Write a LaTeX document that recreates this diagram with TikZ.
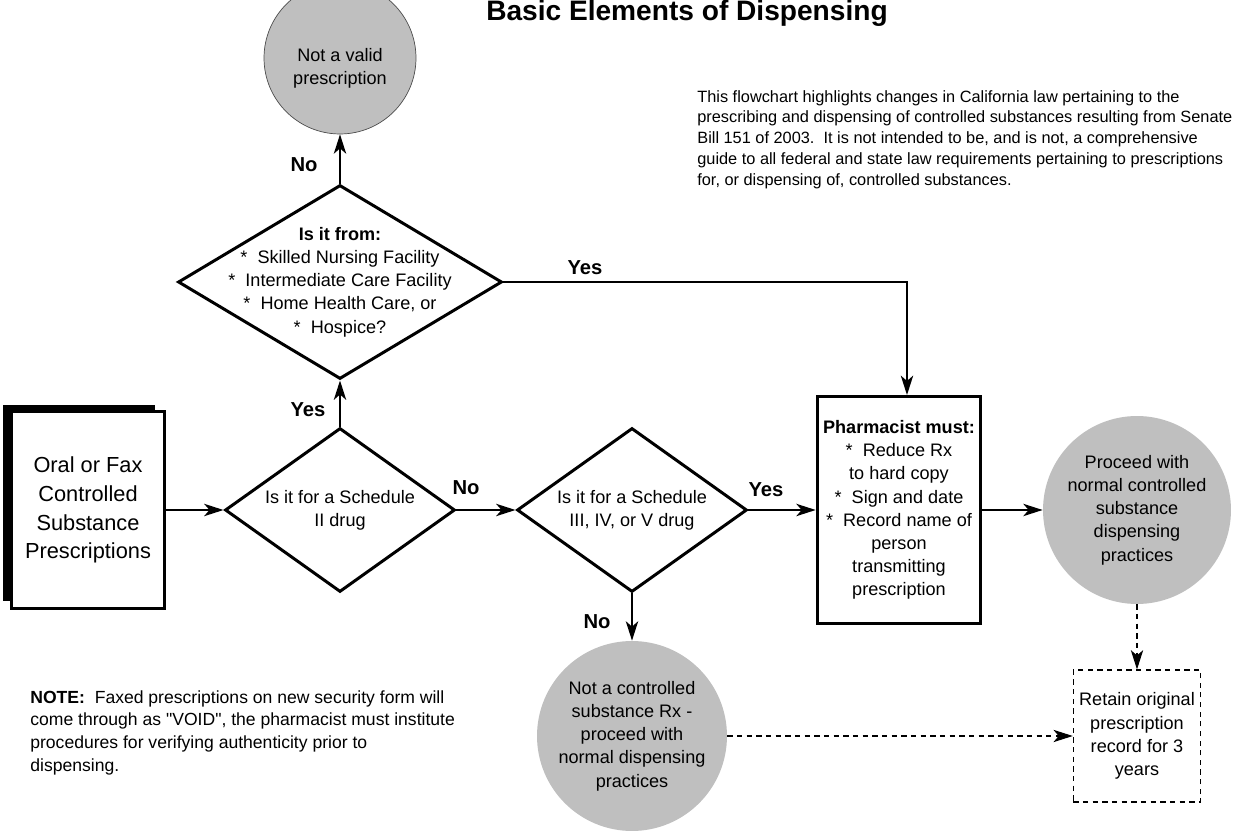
\documentclass[tikz,border=0pt]{standalone}
\usepackage{fontspec}
\setmainfont{Liberation Sans}
\usetikzlibrary{arrows.meta,shapes.geometric,shadows}

\begin{document}
\begin{tikzpicture}[x=0.02cm, y=-0.02cm,
    txt/.style={font=\fontsize{10.3}{13.2}\selectfont, align=center},
    flow/.style={line width=1.2pt, -{Stealth[length=11pt, width=7pt, inset=3pt]}},
    dflow/.style={line width=0.6pt, dash pattern=on 3pt off 2.5pt, -{Stealth[length=11pt, width=7pt, inset=3pt]}},
    decision/.style={draw, diamond, line width=1.7pt, inner sep=0pt},
    endpoint/.style={circle, fill=black!25, inner sep=0pt, txt},
    answer/.style={font=\fontsize{11.5}{13}\selectfont\bfseries}]
  \useasboundingbox (0,0) rectangle (1249,834);
  \node [anchor=base, font=\fontsize{16}{19}\selectfont\bfseries] (title) at (687,21) {Basic Elements of Dispensing};
  \node [anchor=north west, inner sep=0pt, align=left, font=\fontsize{9.3}{11.8}\selectfont] (intro) at (697,90)
    {This flowchart highlights changes in California law pertaining to the\\
     prescribing and dispensing of controlled substances resulting from Senate\\
     Bill 151 of 2003.~~It is not intended to be, and is not, a comprehensive\\
     guide to all federal and state law requirements pertaining to prescriptions\\
     for, or dispensing of, controlled substances.};
  \node [anchor=north west, inner sep=0pt, align=left, font=\fontsize{10}{13}\selectfont] (note) at (30,690)
    {\textbf{NOTE:}~~Faxed prescriptions on new security form will\\
     come through as \textquotedbl VOID\textquotedbl, the pharmacist must institute\\
     procedures for verifying authenticity prior to\\
     dispensing.};
  % shapes
  \node [draw, line width=1.4pt, fill=white, minimum width=3.06cm, minimum height=3.94cm,
    general shadow={fill=black, shadow xshift=-0.18cm, shadow yshift=0.14cm},
    font=\fontsize{12.4}{16.4}\selectfont, align=center] (source) at (88,510)
    {Oral or Fax\\Controlled\\Substance\\Prescriptions};
  \node [decision, minimum width=4.6cm, minimum height=3.28cm,
    label={[txt]center:Is it for a Schedule\\II drug}] (sched2) at (340,510) {};
  \node [decision, minimum width=4.6cm, minimum height=3.28cm,
    label={[txt]center:Is it for a Schedule\\III, IV, or V drug}] (sched35) at (632,510) {};
  \node [decision, minimum width=6.48cm, minimum height=3.88cm,
    label={[txt]center:\textbf{Is it from:}\\{*}~~Skilled Nursing Facility\\{*}~~Intermediate Care Facility\\{*}~~Home Health Care, or\\{*}~~Hospice?}] (facility) at (340,282) {};
  \node [endpoint, draw=black!70, line width=0.4pt, minimum size=3.04cm,
    label={[txt, yshift=-0.2cm]center:Not a valid\\prescription}] (invalid) at (340,58) {};
  \node [draw, line width=1.7pt, minimum width=3.12cm, minimum height=4.54cm, txt] (pharm) at (899,510)
    {\textbf{Pharmacist must:}\\{*}~~Reduce Rx\\to hard copy\\{*}~~Sign and date\\{*}~~Record name of\\person\\transmitting\\prescription};
  \node [endpoint, minimum size=3.76cm] (normal) at (1137,510) {Proceed with\\normal controlled\\substance\\dispensing\\practices};
  \node [endpoint, minimum size=3.8cm] (notcs) at (632,736) {Not a controlled\\substance Rx -\\proceed with\\normal dispensing\\practices};
  \node [draw, line width=0.6pt, dash pattern=on 3pt off 2.5pt, minimum width=2.48cm, minimum height=2.64cm, txt] (retain) at (1137,736)
    {Retain original\\prescription\\record for 3\\years};
  \coordinate (yesbend) at (907,282);
  % answers
  \node [answer] (no1) at (304,165) {No};
  \node [answer] (yes1) at (308,410) {Yes};
  \node [answer] (yes2) at (585,268) {Yes};
  \node [answer] (no2) at (466,488) {No};
  \node [answer] (yes3) at (766,490) {Yes};
  \node [answer] (no3) at (597,622) {No};
  % connectors
  \draw [flow] (source) -- (sched2);
  \draw [flow] (sched2) -- (sched35);
  \draw [flow] (sched35) -- (pharm);
  \draw [flow] (pharm) -- (normal);
  \draw [flow] (sched2.north) -- (facility.south);
  \draw [flow] (facility.north) -- (invalid.south);
  \draw [flow] (facility.east) -- (yesbend) -- (yesbend |- pharm.north);
  \draw [flow] (sched35.south) -- (notcs.north);
  \draw [dflow] (notcs) -- (retain);
  \draw [dflow] (normal) -- (retain);
\end{tikzpicture}
\end{document}
